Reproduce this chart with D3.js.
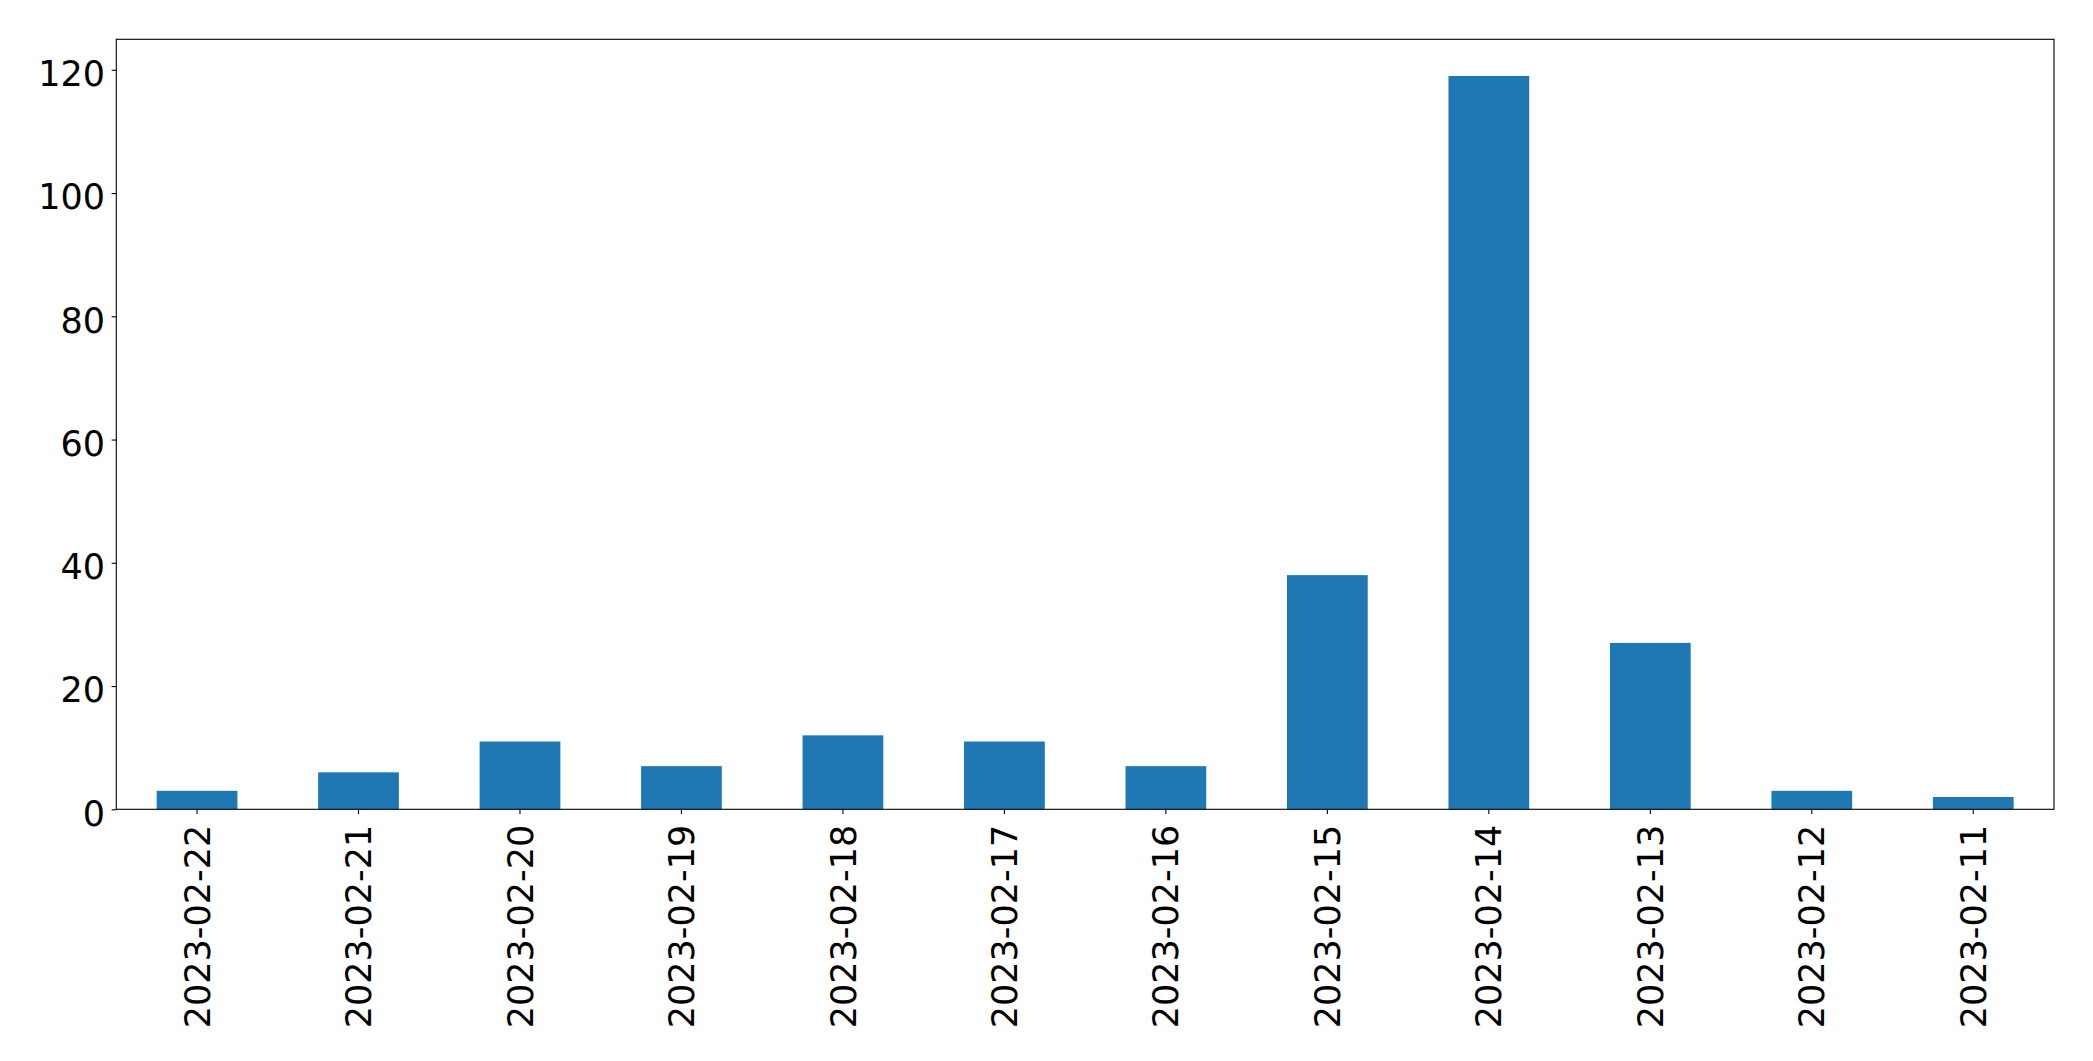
<!DOCTYPE html>
<html>
<head>
<meta charset="utf-8">
<script src="https://cdn.jsdelivr.net/npm/d3@7"></script>
<style>
  html, body { margin: 0; padding: 0; background: #fff; }
  svg { display: block; }
  text { font-family: "DejaVu Sans", sans-serif; }
</style>
</head>
<body>
<svg id="chart" width="2093" height="1061"></svg>
<script>
const categories = ["2023-02-22","2023-02-21","2023-02-20","2023-02-19","2023-02-18","2023-02-17","2023-02-16","2023-02-15","2023-02-14","2023-02-13","2023-02-12","2023-02-11"];
const values = [3, 6, 11, 7, 12, 11, 7, 38, 119, 27, 3, 2];
const yTicks = [0, 20, 40, 60, 80, 100, 120];

const margin = {left: 116.3, top: 39.3, right: 2093 - 2054, bottom: 1061 - 809.3};
const W = 2093 - margin.left - margin.right;
const H = 1061 - margin.top - margin.bottom;
const fontSize = 35;
const tickLen = 4.67;

const svg = d3.select("#chart");
const g = svg.append("g").attr("transform", `translate(${margin.left},${margin.top})`);

const x = d3.scaleBand().domain(categories).range([0, W]).paddingInner(0.5).paddingOuter(0.25);
const y = d3.scaleLinear().domain([0, d3.max(values) * 1.05]).range([H, 0]);

g.selectAll("rect.bar").data(values).enter().append("rect")
  .attr("class", "bar")
  .attr("x", (d, i) => x(categories[i]))
  .attr("y", d => y(d))
  .attr("width", x.bandwidth())
  .attr("height", d => y(0) - y(d))
  .attr("fill", "#1f77b4");

const yAxis = g.append("g")
  .call(d3.axisLeft(y).tickValues(yTicks).tickFormat(d3.format("d")).tickSize(tickLen).tickPadding(6.5));
yAxis.select(".domain").remove();
yAxis.selectAll("line").attr("stroke", "#000").attr("stroke-width", 1.1);
yAxis.selectAll("text").attr("font-size", fontSize).attr("fill", "#000")
  .attr("font-family", "DejaVu Sans")
  .attr("dy", "0.45em");

const xAxis = g.append("g").attr("transform", `translate(0,${H})`)
  .call(d3.axisBottom(x).tickSize(tickLen).tickPadding(6));
xAxis.select(".domain").remove();
xAxis.selectAll("line").attr("stroke", "#000").attr("stroke-width", 1.1);
xAxis.selectAll("text")
  .attr("font-size", fontSize).attr("fill", "#000").attr("font-family", "DejaVu Sans")
  .attr("text-anchor", "end")
  .attr("dy", "0.36em")
  .attr("transform", "rotate(-90)")
  .attr("x", -15.5)
  .attr("y", 0);

g.append("rect")
  .attr("x", 0).attr("y", 0).attr("width", W).attr("height", H)
  .attr("fill", "none").attr("stroke", "#000").attr("stroke-width", 1.1);
</script>
</body>
</html>
